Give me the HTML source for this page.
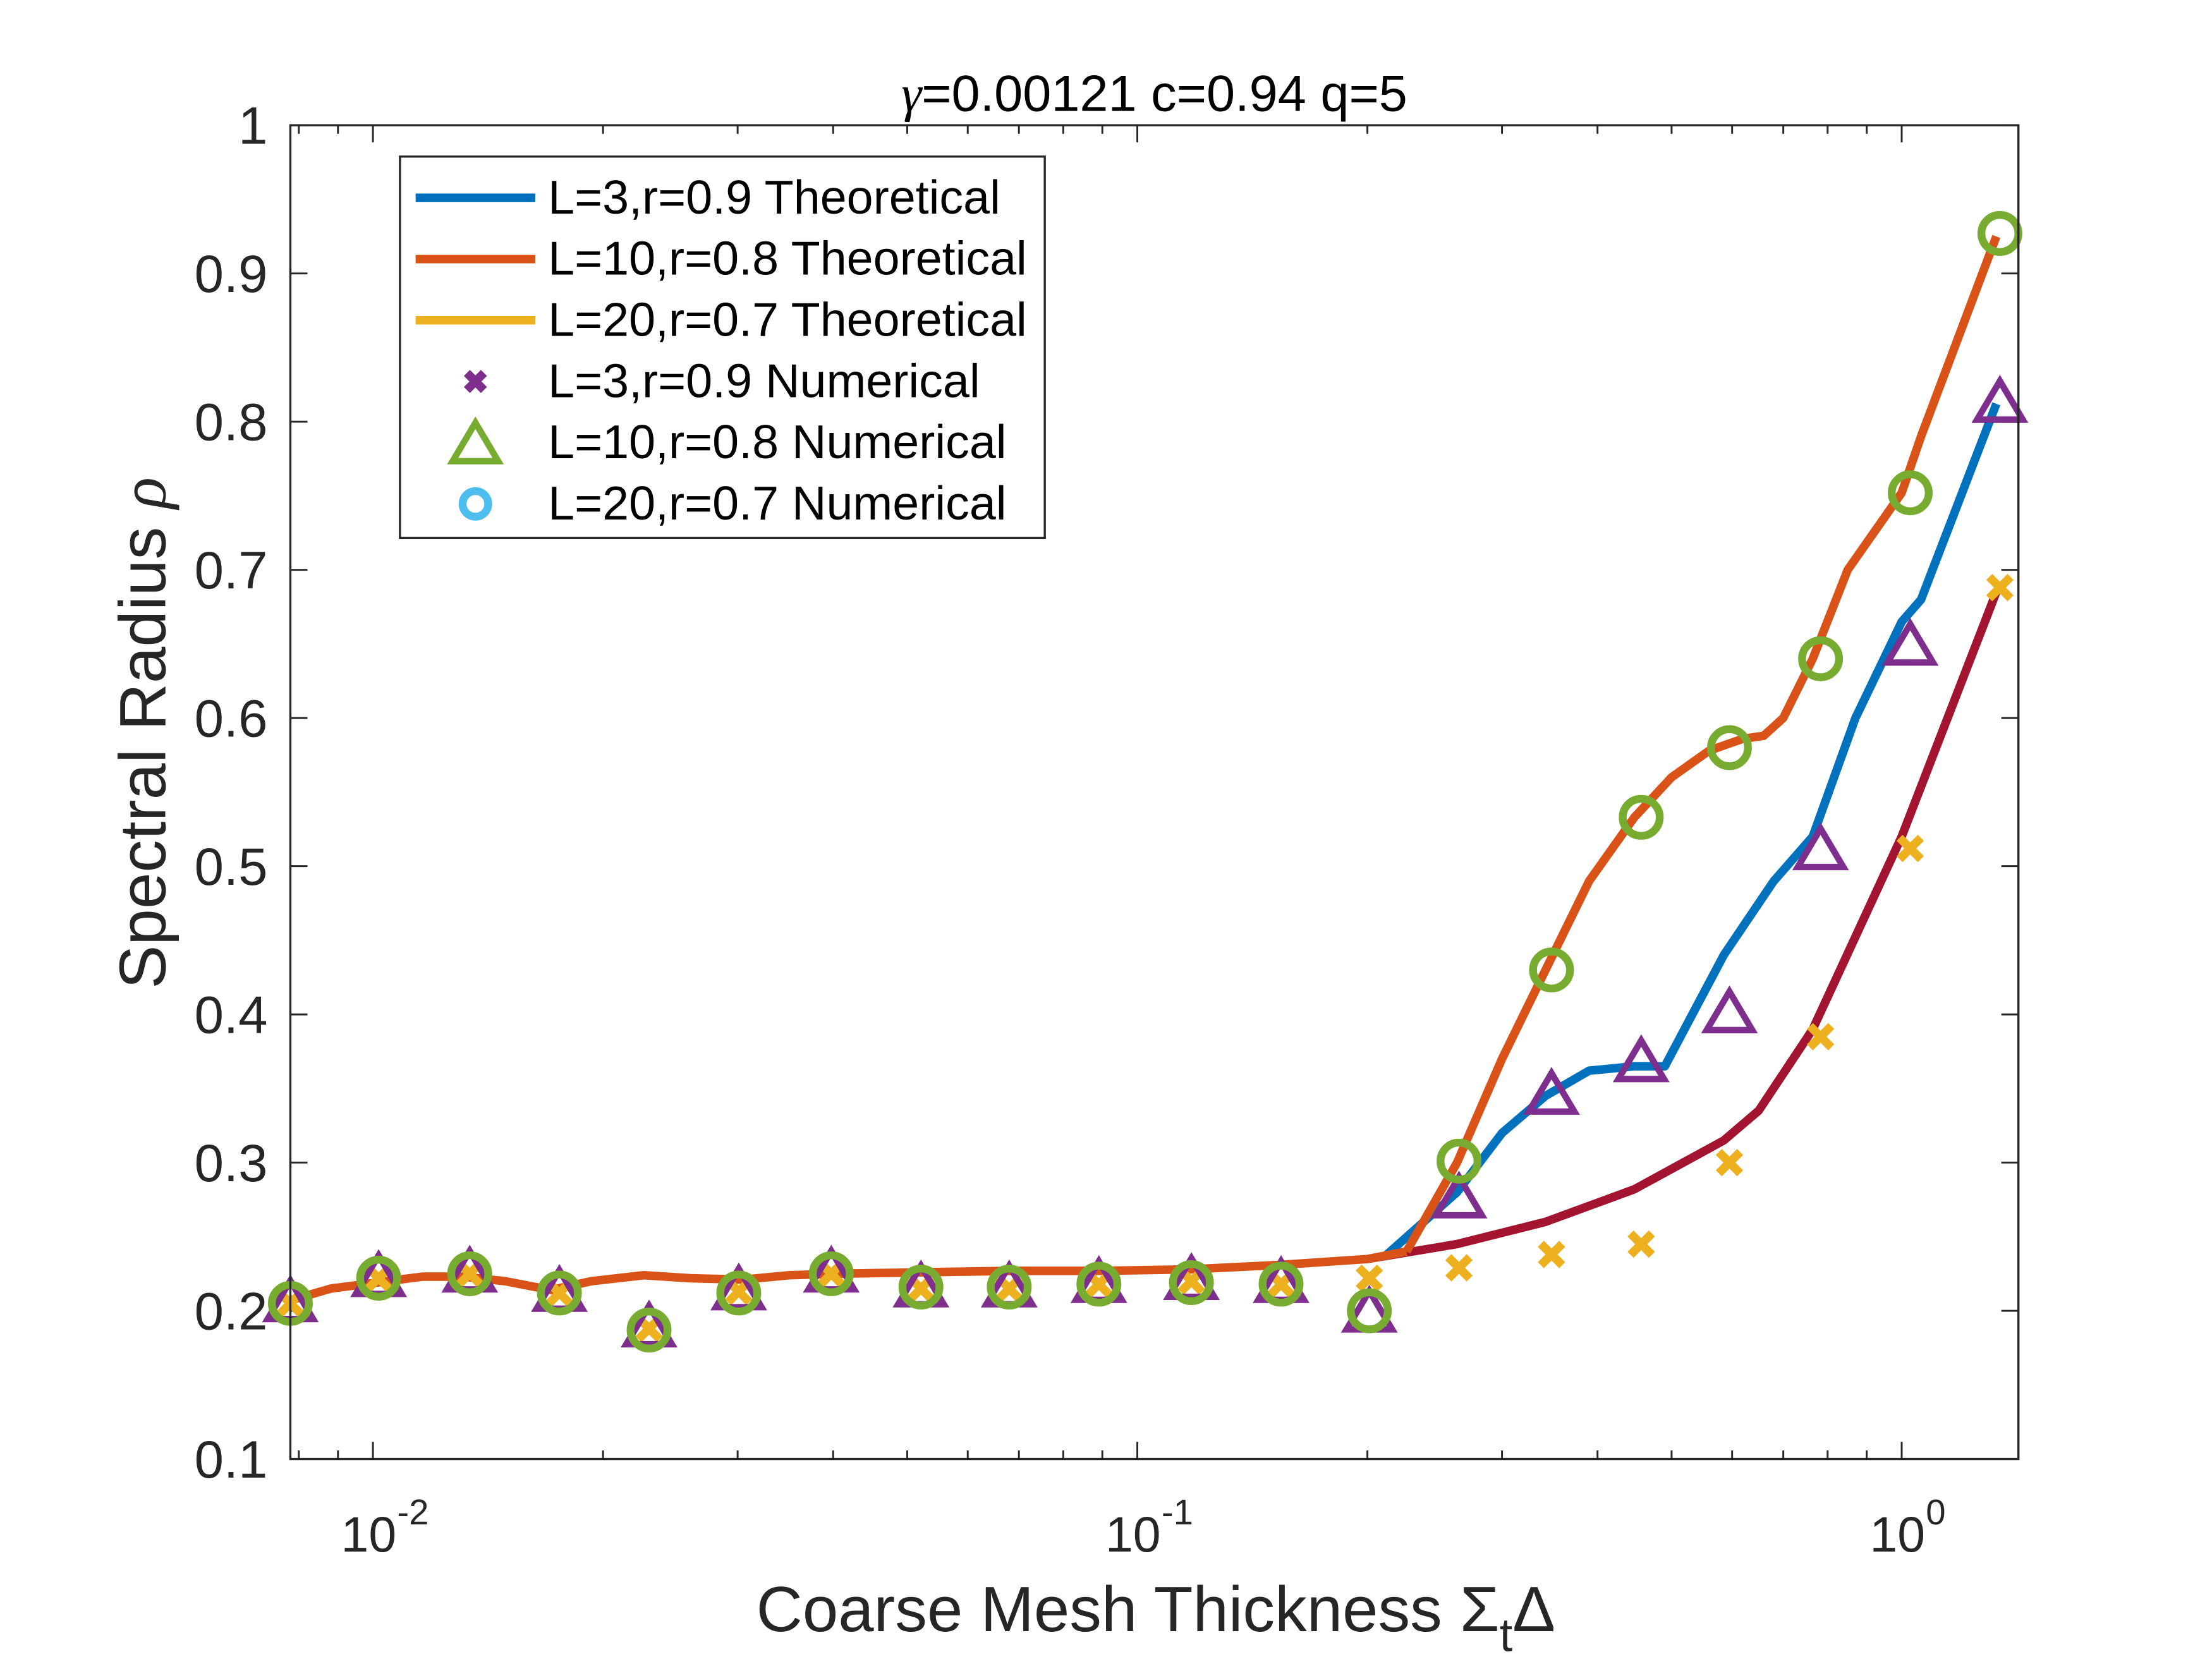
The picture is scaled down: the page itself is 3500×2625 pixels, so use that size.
<!DOCTYPE html>
<html><head><meta charset="utf-8"><style>html,body{margin:0;padding:0;background:#fff}svg{display:block}text{font-family:"Liberation Sans",Arial,sans-serif}</style></head>
<body>
<svg id="chart" width="3500" height="2625" viewBox="0 0 1554 1165.5" xmlns="http://www.w3.org/2000/svg">
<rect x="0" y="0" width="1554" height="1166" fill="#fff"/>
<g id="plot"></g>
<text x="811" y="78" text-anchor="middle" font-size="36" fill="#000"><tspan font-family="Liberation Serif, serif" font-style="italic">γ</tspan>=0.00121 c=0.94 q=5</text>
<text transform="translate(116,515) rotate(-90)" text-anchor="middle" font-size="46" fill="#262626">Spectral Radius <tspan font-family="Liberation Serif, serif" font-style="italic">ρ</tspan></text>
<text x="812" y="1146" text-anchor="middle" font-size="45" fill="#262626">Coarse Mesh Thickness Σ<tspan dy="14" font-size="33">t</tspan><tspan dy="-14">Δ</tspan></text>
</svg>
<script>
// ---- data ----
const xPix = [204,266,330,393,456,519,584,647,709,772,837,900,962,1025,1090,1153,1215,1279,1342,1405];
const xVals = xPix.map(p => Math.pow(10,(p-799)/537-1));
const triVals = [0.205,0.222,0.225,0.212,0.188,0.213,0.225,0.215,0.215,0.218,0.22,0.218,0.198,0.275,0.345,0.367,0.40,0.51,0.648,0.812];
const circVals = [0.205,0.222,0.225,0.212,0.187,0.212,0.225,0.216,0.216,0.218,0.219,0.218,0.2,0.301,0.43,0.533,0.58,0.64,0.752,0.927];
const crossVals = [0.205,0.222,0.225,0.212,0.188,0.213,0.225,0.215,0.215,0.218,0.22,0.218,0.222,0.229,0.238,0.245,0.3,0.385,0.512,0.688];
const flatX = [0.0078,0.0088,0.0101,0.0116,0.0131,0.0149,0.0171,0.0193,0.0226,0.026,0.0305,0.035,0.0401,0.0526,0.0687,0.09,0.118,0.154,0.2,0.225];
const flatY = [0.207,0.215,0.219,0.223,0.223,0.22,0.214,0.22,0.224,0.222,0.221,0.224,0.225,0.226,0.227,0.227,0.228,0.231,0.235,0.24];
const orangeTailX = [0.225,0.262,0.30,0.342,0.39,0.447,0.50,0.56,0.62,0.66,0.70,0.765,0.85,1.0,1.06,1.33];
const orangeTailY = [0.24,0.30,0.37,0.43,0.49,0.533,0.56,0.578,0.586,0.588,0.60,0.64,0.70,0.752,0.79,0.925];
const blueTailX = [0.21,0.262,0.30,0.342,0.39,0.447,0.49,0.585,0.68,0.765,0.87,1.0,1.06,1.33];
const blueTailY = [0.236,0.28,0.32,0.345,0.362,0.365,0.365,0.44,0.49,0.52,0.60,0.665,0.68,0.812];
const redTailX = [0.2,0.262,0.342,0.447,0.585,0.65,0.765,1.0,1.33];
const redTailY = [0.235,0.245,0.26,0.282,0.315,0.335,0.39,0.52,0.685];
const yTicks = [0.1,0.2,0.3,0.4,0.5,0.6,0.7,0.8,0.9,1];
const yTickLabels = ["0.1","0.2","0.3","0.4","0.5","0.6","0.7","0.8","0.9","1"];
const xMajor = [0.01,0.1,1];
const xMajorExp = ["-2","-1","0"];

// ---- axes ----
const L=204,R=1418,T=88,B=1025;
const xs = v => 799 + (Math.log10(v)+1)*537;
const ys = v => B - (v-0.1)/0.9*(B-T);
const NS="http://www.w3.org/2000/svg";
const g=document.getElementById('plot');
function mk(tag,attrs,parent){const e=document.createElementNS(NS,tag);for(const k in attrs)e.setAttribute(k,attrs[k]);(parent||g).appendChild(e);return e;}

for(let i=0;i<yTicks.length;i++){
  const y=ys(yTicks[i]);
  const t=mk('path',{d:`M${L},${y}H${L+12}M${R},${y}H${R-12}`,stroke:'#262626','stroke-width':1.3});
  
  
  const lb=mk('text',{x:L-16,y:y+13,'text-anchor':'end','font-size':37,fill:'#262626'});
  lb.textContent=yTickLabels[i];
  
  
}
for(let d=-3;d<=0;d++){for(let m=1;m<10;m++){const v=m*Math.pow(10,d);const x=xs(v);if(x<L||x>R)continue;const len=m===1?12:6;
  const t=mk('path',{d:`M${x},${B}V${B-len}M${x},${T}V${T+len}`,stroke:'#262626','stroke-width':1.3});
  
  
}}
for(let i=0;i<xMajor.length;i++){
  const x=xs(xMajor[i]);
  const lb=mk('text',{x:x-3,y:B+65,'text-anchor':'middle','font-size':35,fill:'#262626'});
  lb.textContent='10';
  
  
  const ex=mk('text',{x:x+17,y:B+46,'font-size':25,fill:'#262626'});
  ex.textContent=xMajorExp[i];
  
  
}

function line(xa,ya,col,name){const d=xa.map((v,i)=>(i?'L':'M')+xs(v).toFixed(1)+','+ys(ya[i]).toFixed(1)).join('');
  const p=mk('path',{d:d,fill:'none',stroke:col,'stroke-width':6,'stroke-linejoin':'round'});
  
  }
line(redTailX,redTailY,'#A2142F','line-l20-theoretical');
line(blueTailX,blueTailY,'#0072BD','line-l3-theoretical');
line(orangeTailX,orangeTailY,'#D95319','line-l10-theoretical');
line(flatX,flatY,'#D95319','line-shared-theoretical');

function cross(x,y,s,col){return mk('path',{d:`M${x-s},${y-s}L${x+s},${y+s}M${x-s},${y+s}L${x+s},${y-s}`,stroke:col,'stroke-width':6});}
function tri(x,y,col,w){return mk('path',{d:`M${x},${y-16}L${x+16},${y+11}L${x-16},${y+11}Z`,fill:'none',stroke:col,'stroke-width':w});}
function circ(x,y,col){return mk('circle',{cx:x,cy:y,r:13,fill:'none',stroke:col,'stroke-width':5.5});}
for(let i=0;i<xVals.length;i++){const m=cross(xs(xVals[i]),ys(crossVals[i]),7.5,'#EDB120');
  
  }
for(let i=0;i<xVals.length;i++){const m=tri(xs(xVals[i]),ys(triVals[i]),'#7E2F8E',4.5);
  
  }
for(let i=0;i<xVals.length;i++){const m=circ(xs(xVals[i]),ys(circVals[i]),'#77AC30');
  
  }

const fr=mk('rect',{x:L,y:T,width:R-L,height:B-T,fill:'none',stroke:'#262626','stroke-width':1.5});



const lg=mk('g',{});


mk('rect',{x:281,y:110,width:453,height:268,fill:'#fff',stroke:'#262626','stroke-width':1.5},lg);
const legTexts=["L=3,r=0.9 Theoretical","L=10,r=0.8 Theoretical","L=20,r=0.7 Theoretical","L=3,r=0.9 Numerical","L=10,r=0.8 Numerical","L=20,r=0.7 Numerical"];
const legColors=['#0072BD','#D95319','#EDB120'];
for(let i=0;i<6;i++){const y=139+i*43;
  const e=mk('g',{},lg);
  
  
  if(i<3) mk('path',{d:`M292,${y}H376`,stroke:legColors[i],'stroke-width':6},e);
  else if(i===3){const c=cross(334,y,6,'#7E2F8E');e.appendChild(c);}
  else if(i===4){const t=tri(334,y+2,'#77AC30',4.5);e.appendChild(t);}
  else {mk('circle',{cx:334,cy:y,r:9,fill:'none',stroke:'#4DBEEE','stroke-width':5.5},e);}
  const tx=mk('text',{x:385,y:y+11,'font-size':33.5,fill:'#000'},e);tx.textContent=legTexts[i];}
</script>
</body></html>
